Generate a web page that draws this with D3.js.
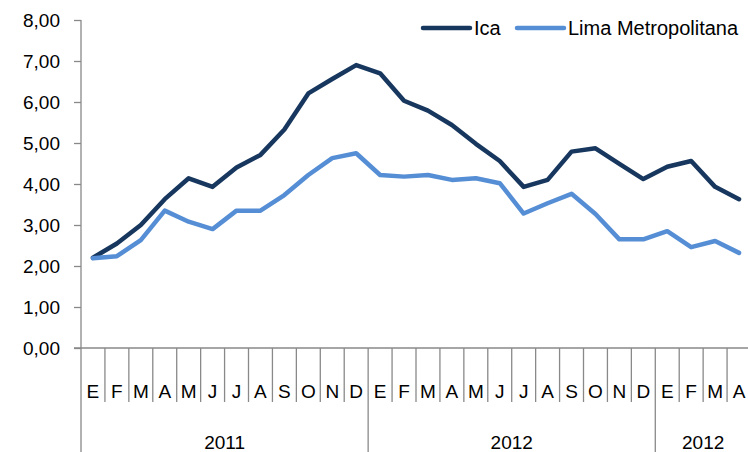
<!DOCTYPE html>
<html>
<head>
<meta charset="utf-8">
<script src="https://cdn.jsdelivr.net/npm/d3@7"></script>
<style>
  body { margin: 0; background: #fff; }
  svg { display: block; font-family: "Liberation Sans", Arial, sans-serif; }
</style>
</head>
<body>
<svg id="chart" width="748" height="452"></svg>
<script>
// data
var months = ["E","F","M","A","M","J","J","A","S","O","N","D",
              "E","F","M","A","M","J","J","A","S","O","N","D",
              "E","F","M","A"];
var years = [
  { label: "2011", start: 0, end: 12 },
  { label: "2012", start: 12, end: 24 },
  { label: "2012", start: 24, end: 28 }
];
var ica = [2.20, 2.55, 3.00, 3.63, 4.14, 3.93, 4.40, 4.71, 5.33, 6.21, 6.56, 6.90,
           6.70, 6.03, 5.79, 5.44, 4.98, 4.56, 3.93, 4.10, 4.79, 4.87, 4.49, 4.12,
           4.42, 4.56, 3.93, 3.63];
var lima = [2.19, 2.24, 2.63, 3.35, 3.08, 2.90, 3.35, 3.35, 3.73, 4.22, 4.63, 4.75,
            4.22, 4.18, 4.22, 4.10, 4.14, 4.02, 3.28, 3.53, 3.76, 3.27, 2.65, 2.65,
            2.85, 2.46, 2.61, 2.32];
var yTicks = [0, 1, 2, 3, 4, 5, 6, 7, 8];

var series = [
  { name: "Ica", values: ica, color: "#17375E" },
  { name: "Lima Metropolitana", values: lima, color: "#558ED5" }
];

var svg = d3.select("#chart");
var axisColor = "#898989";
var plotLeft = 81, plotRight = 751, plotTop = 20, plotBottom = 348;

var x = d3.scaleBand().domain(d3.range(months.length)).range([plotLeft, plotRight]).padding(0);
var y = d3.scaleLinear().domain([0, 8]).range([plotBottom, plotTop]);

// y axis
var yAxis = svg.append("g")
  .attr("transform", "translate(" + plotLeft + ",0)")
  .call(d3.axisLeft(y).tickValues(yTicks).tickSize(7).tickPadding(14)
        .tickFormat(function(d) { return d3.format(".2f")(d).replace(".", ","); }));
yAxis.select(".domain").remove();
yAxis.selectAll(".tick line").attr("stroke", axisColor).attr("stroke-width", 1.3);
yAxis.selectAll(".tick text").attr("fill", "#000").style("font-size", "19px")
  .style("font-family", "'Liberation Sans', Arial, sans-serif");

svg.append("line")
  .attr("x1", plotLeft).attr("x2", plotLeft).attr("y1", plotTop).attr("y2", 452)
  .attr("stroke", axisColor).attr("stroke-width", 1.3);

// x axis baseline
svg.append("line")
  .attr("x1", plotLeft - 7).attr("x2", 748).attr("y1", plotBottom).attr("y2", plotBottom)
  .attr("stroke", axisColor).attr("stroke-width", 1.3);

// month separators
var yearStarts = years.map(function(d) { return d.start; });
svg.append("g").selectAll("line")
  .data(d3.range(1, months.length + 1))
  .join("line")
  .attr("x1", function(i) { return i < months.length ? x(i) : plotRight; })
  .attr("x2", function(i) { return i < months.length ? x(i) : plotRight; })
  .attr("y1", plotBottom)
  .attr("y2", function(i) { return yearStarts.indexOf(i) >= 0 ? 452 : 402; })
  .attr("stroke", axisColor).attr("stroke-width", 1.3);

// month labels
svg.append("g").selectAll("text")
  .data(months)
  .join("text")
  .attr("x", function(d, i) { return x(i) + x.bandwidth() / 2; })
  .attr("y", 398)
  .attr("text-anchor", "middle")
  .style("font-size", "19px")
  .text(function(d) { return d; });

// year labels
svg.append("g").selectAll("text")
  .data(years)
  .join("text")
  .attr("x", function(d) { return (x(d.start) + (d.end < months.length ? x(d.end) : plotRight)) / 2; })
  .attr("y", 449)
  .attr("text-anchor", "middle")
  .style("font-size", "19px")
  .text(function(d) { return d.label; });

// lines
var line = d3.line()
  .x(function(d, i) { return x(i) + x.bandwidth() / 2; })
  .y(function(d) { return y(d); });

svg.append("g").selectAll("path")
  .data(series)
  .join("path")
  .attr("d", function(d) { return line(d.values); })
  .attr("fill", "none")
  .attr("stroke", function(d) { return d.color; })
  .attr("stroke-width", 4.5)
  .attr("stroke-linejoin", "round")
  .attr("stroke-linecap", "round");

// legend
var legendX = [423, 517];
var legend = svg.append("g").selectAll("g")
  .data(series)
  .join("g")
  .attr("transform", function(d, i) { return "translate(" + legendX[i] + ",28)"; });
legend.append("line")
  .attr("x1", 0).attr("x2", 47)
  .attr("stroke", function(d) { return d.color; })
  .attr("stroke-width", 4.5)
  .attr("stroke-linecap", "round");
legend.append("text")
  .attr("x", 51).attr("y", 7)
  .style("font-size", "20px")
  .text(function(d) { return d.name; });
</script>
</body>
</html>
